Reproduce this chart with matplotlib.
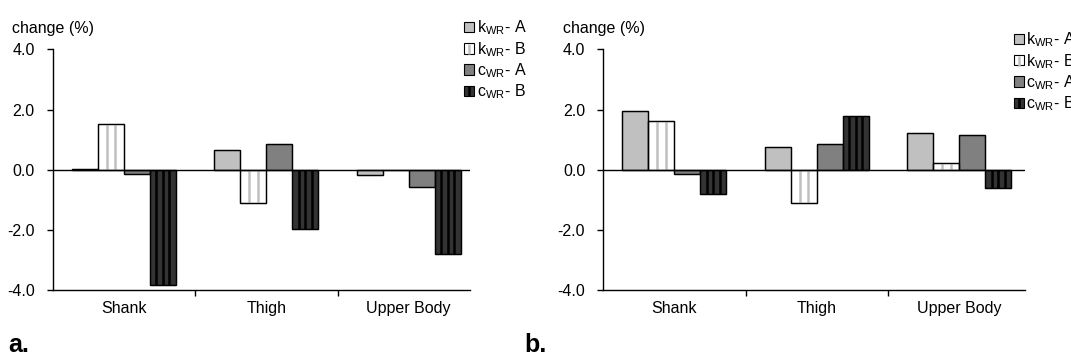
import matplotlib
matplotlib.use("Agg")
import matplotlib.pyplot as plt
import numpy as np
from matplotlib.legend_handler import HandlerTuple
from matplotlib.lines import Line2D
from matplotlib.patches import Patch
from matplotlib.ticker import FixedLocator, FormatStrFormatter

plt.rcParams["font.family"] = ["Liberation Sans", "DejaVu Sans"]
plt.rcParams["mathtext.fontset"] = "custom"
plt.rcParams["mathtext.rm"] = "Liberation Sans"
plt.rcParams["mathtext.it"] = "Liberation Sans"
plt.rcParams["axes.unicode_minus"] = False

categories = ["Shank", "Thigh", "Upper Body"]
series_labels = [r"k$_{\mathrm{WR}}$- A", r"k$_{\mathrm{WR}}$- B",
                 r"c$_{\mathrm{WR}}$- A", r"c$_{\mathrm{WR}}$- B"]
y_ticks = [-4.0, -2.0, 0.0, 2.0, 4.0]

# panel a
a_k_a = [0.02, 0.67, -0.17]
a_k_b = [1.51, -1.09, -0.02]
a_c_a = [-0.13, 0.84, -0.58]
a_c_b = [-3.85, -1.96, -2.81]

# panel b
b_k_a = [1.95, 0.76, 1.23]
b_k_b = [1.62, -1.09, 0.22]
b_c_a = [-0.13, 0.86, 1.16]
b_c_b = [-0.80, 1.79, -0.61]

face = ["#c0c0c0", "#ffffff", "#808080", "#333333"]
stripe = [None, "#c0c0c0", None, "#000000"]
n_stripes = [0, 2, 0, 3]
width = 0.1825
fs = 11.5


def draw_panel(ax, series, xmax):
    x = np.arange(len(categories))
    for i, vals in enumerate(series):
        xs = x + (i - 1.5) * width
        ax.bar(xs, vals, width, color=face[i], edgecolor="black",
               linewidth=0.9, zorder=2)
        for k in range(1, n_stripes[i] + 1):
            lx = xs - width / 2 + width * k / (n_stripes[i] + 1)
            ax.vlines(lx, 0, vals, color=stripe[i], linewidth=1.8, zorder=3)
        # outline again so stripes sit inside the bar border
        ax.bar(xs, vals, width, fill=False, edgecolor="black",
               linewidth=0.9, zorder=4)
    ax.axhline(0, color="black", linewidth=1, zorder=5)
    ax.set_xlim(-0.5, xmax)
    ax.set_ylim(-4, 4)
    ax.yaxis.set_major_locator(FixedLocator(y_ticks))
    ax.yaxis.set_major_formatter(FormatStrFormatter("%.1f"))
    ax.set_xticks(x)
    ax.set_xticklabels(categories)
    ax.set_xticks(x[:-1] + 0.5, minor=True)
    ax.tick_params(axis="x", which="major", length=0, pad=8, labelsize=fs)
    ax.tick_params(axis="x", which="minor", length=4, width=1, direction="out")
    ax.tick_params(axis="y", length=4, width=1, pad=9, labelsize=fs)
    for side in ["top", "right"]:
        ax.spines[side].set_visible(False)
    for side in ["left", "bottom"]:
        ax.spines[side].set_linewidth(1)
    ax.spines["left"].set_zorder(6)


def legend_handles():
    handles = []
    for i in range(4):
        box = Patch(facecolor=face[i], edgecolor="black", linewidth=0.8)
        if stripe[i] is None:
            handles.append(box)
        else:
            line = Line2D([], [], marker="|", linestyle="none", color=stripe[i],
                          markersize=6.5, markeredgewidth=1.8)
            handles.append((box, line))
    return handles


fig = plt.figure(figsize=(10.71, 3.61), dpi=100)
ax_a = fig.add_axes([0.0492, 0.1967, 0.3896, 0.6662])
ax_b = fig.add_axes([0.5632, 0.1967, 0.3938, 0.6662])

draw_panel(ax_a, [a_k_a, a_k_b, a_c_a, a_c_b], 2.43)
draw_panel(ax_b, [b_k_a, b_k_b, b_c_a, b_c_b], 2.46)

leg_kw = dict(frameon=False, fontsize=fs, handlelength=0.62, handleheight=0.62,
              handletextpad=0.15, labelspacing=0.16, borderpad=0, borderaxespad=0,
              loc="upper left", handler_map={tuple: HandlerTuple(ndivide=1)})
fig.legend(legend_handles(), series_labels, bbox_to_anchor=(0.4335, 0.948), **leg_kw)
fig.legend(legend_handles(), series_labels, bbox_to_anchor=(0.9468, 0.915), **leg_kw)

fig.text(0.011, 0.922, "change (%)", fontsize=fs, va="center", ha="left")
fig.text(0.5255, 0.922, "change (%)", fontsize=fs, va="center", ha="left")
fig.text(0.008, 0.012, "a.", fontsize=18, fontweight="bold", ha="left", va="bottom")
fig.text(0.490, 0.012, "b.", fontsize=18, fontweight="bold", ha="left", va="bottom")

fig.savefig("out.png", dpi=100)
